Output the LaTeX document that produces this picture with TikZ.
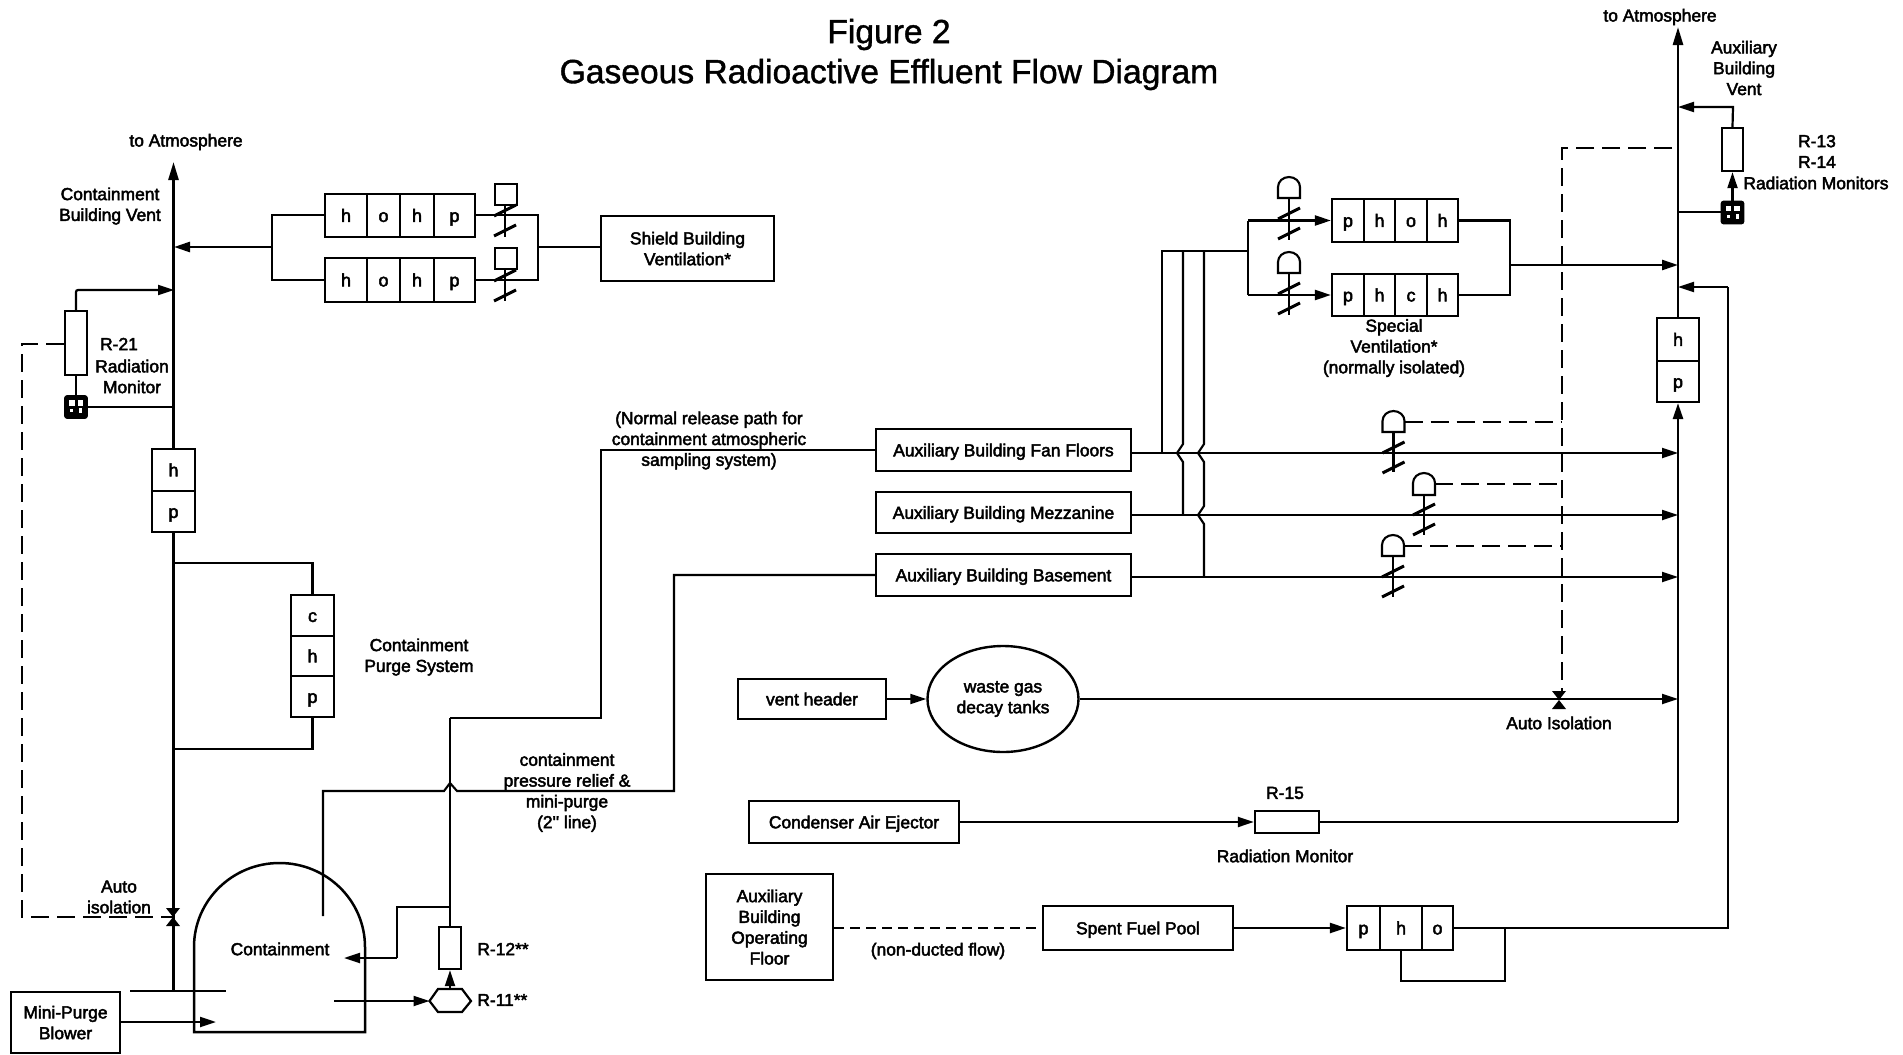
\documentclass[tikz,border=0pt]{standalone}
\usepackage{fontspec}
\setmainfont{Liberation Sans}
\newfontfamily\fk[FakeBold=2.6]{Liberation Sans}
\newfontfamily\fkt[FakeBold=1.2]{Liberation Sans}
\usetikzlibrary{arrows.meta,shapes.geometric}
\newcommand\bx[7][boxs]{\pgfmathsetmacro\wdd{(#5-#3)*0.5}\pgfmathsetmacro\htt{(#6-#4)*0.5}\node[#1,minimum width=\wdd pt,minimum height=\htt pt] (#2) at ({(#3+#5)/2},{(#4+#6)/2}) {#7};}
\newcommand\slashpair[3]{\draw[slash] (#1-11,#2+5) -- (#1+11,#2-6); \draw[slash] (#1-11,#3+5) -- (#1+11,#3-6);}
% dome valve: dome top y, x, dome bottom y, half width, line y, stem bottom, name
\newcommand\domevalve[7]{%
 \draw[thin2] (#2-#4,#3) -- (#2-#4,#1+10) arc[start angle=180,end angle=360,x radius=#4,y radius=10] -- (#2+#4,#3) -- cycle;
 \coordinate (#7) at (#2+#4,#1+11);
 \draw[thin2] (#2,#3) -- (#2,#6);
 \slashpair{#2}{#5-5}{#5+15}}
% dark sampler block
\newcommand\sampler[3]{%
 \node[fill=black,draw,line width=0.8pt,rounded corners=1pt,minimum width=11pt,minimum height=11pt,inner sep=0pt] (#1) at (#2,#3) {};
 \fill[white] (#2-7,#3-7) rectangle (#2-1.5,#3-1.5);
 \fill[white] (#2+1.5,#3-7) rectangle (#2+7,#3-1.5);
 \fill[white] (#2+3,#3+1) rectangle (#2+6,#3+6);
 \fill[white] (#2-6,#3+2) rectangle (#2-3,#3+5);}
\tikzset{
 boxs/.style={draw,line width=1.2pt,inner sep=0pt,align=center,text depth=0pt,font=\fk\fontsize{8.7}{10.4}\selectfont},
 cell/.style={boxs,line width=1.1pt,text height=6.4pt,text depth=0pt,font=\fk\fontsize{9}{10}\selectfont},
 lab/.style={inner sep=0pt,align=center,font=\fk\fontsize{8.7}{10.4}\selectfont},
 main/.style={line width=1.3pt},
 thin2/.style={line width=1.05pt},
 flow/.style={line width=1.1pt,-{Triangle[length=8pt,width=5pt]}},
 dash2/.style={line width=0.9pt,dash pattern=on 9pt off 4pt},
 slash/.style={line width=1.5pt},
}
\begin{document}
\begin{tikzpicture}[x=0.5pt,y=-0.5pt]
\useasboundingbox (0,0) rectangle (1903,1055);
% title
\node[inner sep=0pt,align=center,font=\fkt\fontsize{16.8}{20}\selectfont] (title) at (889,54.5) {Figure 2\\Gaseous Radioactive Effluent Flow Diagram};
% ---- left stack
\bx[cell]{lh}{152}{449}{195}{491}{h}
\bx[cell]{lp}{152}{491}{195}{532}{p}
\coordinate (ltop) at (174,162);
\draw[main,-{Triangle[length=9pt,width=5pt]}] (lh.north |- lh.north) -- (lh.north |- ltop);
\coordinate (lbase) at (174,991);
\draw[main] (lp.south) -- (lp.south |- lbase);
\coordinate (barL) at (130,991); \coordinate (barR) at (226,991);
\draw[line width=1.4pt] (barL) -- (barR);
\node[lab] (atm1) at (186,142) {to Atmosphere};
\node[lab] (cbv) at (110,206) {Containment\\Building Vent};
% R-21
\bx{r21}{65}{311}{87}{375}{}
\sampler{ao1}{76}{407}
\coordinate (r21up) at (76,290); \coordinate (v21a) at (174,290); \coordinate (v21b) at (174,407);
\draw[flow,rounded corners=1pt] (r21.north) -- (r21up) -- (v21a);
\draw[thin2] (r21.south) -- (ao1.north);
\draw[main] (ao1.east |- v21b) -- (v21b);
\node[lab] (t21a) at (119,344) {R-21};
\node[lab] (t21b) at (132,376.5) {Radiation\\Monitor};
% left isolation
\coordinate (iso1) at (173,917); \coordinate (dl1) at (22,344); \coordinate (dl2) at (22,917);
\draw[dash2] (r21.west |- dl1) -- (dl1) -- (dl2) -- (iso1);
\fill (166,908) -- (180,908) -- (166,926) -- (180,926) -- cycle;
\node[lab] (autoL) at (119,897) {Auto\\isolation};
% shield filters
\bx[cell]{a1}{325}{194}{367}{237}{h}\bx[cell]{a2}{367}{194}{400}{237}{o}\bx[cell]{a3}{400}{194}{434}{237}{h}\bx[cell]{a4}{434}{194}{475}{237}{p}
\bx[cell]{b1}{325}{258}{367}{302}{h}\bx[cell]{b2}{367}{258}{400}{302}{o}\bx[cell]{b3}{400}{258}{434}{302}{h}\bx[cell]{b4}{434}{258}{475}{302}{p}
\bx{shield}{601}{216}{774}{281}{Shield Building\\Ventilation*}
\coordinate (mL1) at (272,215); \coordinate (mL2) at (272,280); \coordinate (mLm) at (272,247);
\coordinate (mR1) at (538,215); \coordinate (mR2) at (538,280); \coordinate (mRm) at (538,247);
\draw[thin2] (a1.west |- mL1) -- (mL1) -- (mL2) -- (b1.west |- mL2);
\draw[thin2] (a4.east |- mR1) -- (mR1) -- (mR2) -- (b4.east |- mR2);
\draw[main] (shield.west |- mRm) -- (mRm);
\coordinate (vtip) at (174,247);
\draw[flow,line width=1.3pt] (mLm) -- (vtip);
\foreach \yy/\yb in {184/215,248/280}{
 \draw[thin2] (495,\yy) rectangle (517,\yy+21);
 \draw[thin2] (505,\yy+21) -- (505,\yy+53);
 \slashpair{505}{\yb-4}{\yb+16}
}
% purge
\bx[cell]{c1}{291}{595}{334}{636}{c}\bx[cell]{c2}{291}{636}{334}{676}{h}\bx[cell]{c3}{291}{676}{334}{717}{p}
\coordinate (pu1) at (174,563); \coordinate (pu2) at (174,749);
\draw[thin2] (pu1) -- (c1.north |- pu1) -- (c1.north);
\draw[thin2] (pu2) -- (c3.south |- pu2) -- (c3.south);
\node[lab] (cps) at (419,657) {Containment\\Purge System};
% containment
\draw[line width=1.25pt] (194,1032) -- (194,947) arc[start angle=180,end angle=360,x radius=85.5,y radius=84] -- (365,1032) -- cycle;
\node[lab] (contt) at (280,949) {Containment};
\bx{blower}{11}{992}{120}{1053}{Mini-Purge\\Blower}
\coordinate (bl2) at (216,1022);
\draw[flow] (blower.east |- bl2) -- (bl2);
\coordinate (hexW) at (429.5,1001); \coordinate (hexE) at (471,1001); \coordinate (hexN) at (450,989);
\draw[line width=1.1pt] (hexW) -- (438,989) -- (462,989) -- (hexE) -- (462,1012) -- (438,1012) -- cycle;
\bx{r12}{439}{927}{461}{969}{}
\coordinate (in11) at (334,1001);
\draw[flow] (in11) -- (hexW);
\draw[flow] (hexN) -- (r12.south);
\node[lab,anchor=west] (t12) at (477,949) {R-12**};
\node[lab,anchor=west] (t11) at (477,1000) {R-11**};
\coordinate (st1) at (450,718); \coordinate (st2) at (450,907); \coordinate (st3) at (397,907); \coordinate (st4) at (397,958); \coordinate (st5) at (344,958);
\draw[thin2] (r12.north) -- (st1);
\draw[main] (st2) -- (st3) -- (st4);
\draw[flow] (st4) -- (st5);
% aux boxes
\bx{fan}{876}{429}{1131}{471}{Auxiliary Building Fan Floors}
\bx{mez}{876}{492}{1131}{533}{Auxiliary Building Mezzanine}
\bx{bas}{876}{554}{1131}{596}{Auxiliary Building Basement}
\coordinate (n1) at (601,450); \coordinate (n2) at (601,718);
\draw[thin2] (st1) -- (n2) -- (n1) -- (fan.west |- n1);
\coordinate (p1) at (323,916); \coordinate (p2) at (323,791); \coordinate (p3) at (444,791); \coordinate (p4) at (450,783); \coordinate (p5) at (457,791); \coordinate (p6) at (674,791); \coordinate (p7) at (674,575);
\draw[thin2] (p1) -- (p2) -- (p3) -- (p4) -- (p5) -- (p6) -- (p7) -- (bas.west |- p7);
\node[lab] (norm) at (709,440.5) {(Normal release path for\\containment atmospheric\\sampling system)};
\node[lab] (cprel) at (567,792.5) {containment\\pressure relief \&\\mini-purge\\(2'' line)};
% right main
\bx[cell]{rh}{1657}{318}{1699}{361}{h}
\bx[cell]{rp}{1657}{361}{1699}{402}{p}
\coordinate (rtop) at (1678,27); \coordinate (rbot) at (1678,822);
\draw[main,-{Triangle[length=9pt,width=5pt]}] (rh.north) -- (rh.north |- rtop);
\draw[main,-{Triangle[length=8pt,width=5pt]}] (rbot) -- (rp.south);
\node[lab] (atm2) at (1660,17) {to Atmosphere};
\node[lab] (abv) at (1744,68) {Auxiliary\\Building\\Vent};
\bx{r13}{1722}{128}{1743}{171}{}
\sampler{ao2}{1732.5}{212.5}
\coordinate (r13a) at (1733,107); \coordinate (r13b) at (1678,107); \coordinate (r13c) at (1678,212);
\draw[flow] (r13.north) -- (r13a) -- (r13b);
\draw[flow] (ao2.north) -- (r13.south);
\draw[thin2] (ao2.west |- r13c) -- (r13c);
\node[lab] (t13) at (1817,151.5) {R-13\\R-14};
\node[lab] (t13b) at (1816,183) {Radiation Monitors};
% special ventilation
\bx[cell]{s1}{1332}{199}{1364}{242}{p}\bx[cell]{s2}{1364}{199}{1395}{242}{h}\bx[cell]{s3}{1395}{199}{1427}{242}{o}\bx[cell]{s4}{1427}{199}{1458}{242}{h}
\bx[cell]{u1}{1332}{274}{1364}{316}{p}\bx[cell]{u2}{1364}{274}{1395}{316}{h}\bx[cell]{u3}{1395}{274}{1427}{316}{c}\bx[cell]{u4}{1427}{274}{1458}{316}{h}
\coordinate (sL1) at (1248,220.5); \coordinate (sL2) at (1248,295); \coordinate (sLm) at (1248,251);
\coordinate (sR1) at (1510,220.5); \coordinate (sR2) at (1510,295); \coordinate (sRm) at (1510,265); \coordinate (sT) at (1678,265);
\draw[main] (sL2) -- (sL1);
\draw[flow] (sL1) -- (s1.west |- sL1);
\draw[flow] (sL2) -- (u1.west |- sL2);
\draw[thin2] (s4.east |- sR1) -- (sR1) -- (sR2) -- (u4.east |- sR2);
\draw[flow,line width=1.25pt] (sRm) -- (sT);
\domevalve{177}{1289}{198}{11}{219}{240}{ds1}
\domevalve{252}{1289}{273}{11}{294}{315}{ds2}
\node[lab] (spec) at (1394,348) {Special\\Ventilation*\\(normally isolated)};
% verticals to the special ventilation
\coordinate (ve1) at (1162,251); \coordinate (ve2) at (1183,251); \coordinate (ve3) at (1204,251);
\draw[thin2] (sLm) -- (ve1) -- (1162,453);
\draw[thin2] (ve2) -- (1183,444) -- (1177,453) -- (1183,462) -- (1183,515);
\draw[thin2] (ve3) -- (1204,444) -- (1198,453) -- (1204,462) -- (1204,506) -- (1198,515) -- (1204,524) -- (1204,577);
% branch flows
\coordinate (tf) at (1678,453); \coordinate (tm) at (1678,515); \coordinate (tb) at (1678,577); \coordinate (tw) at (1678,699);
\coordinate (fa) at (1131,453); \coordinate (ma) at (1131,515); \coordinate (ba) at (1131,577);
\draw[flow] (fa) -- (tf);
\draw[flow] (ma) -- (tm);
\draw[flow] (ba) -- (tb);
\domevalve{411}{1393.5}{432}{11}{453}{472}{d1}
\domevalve{473}{1424}{495}{11}{515}{535}{d2}
\domevalve{535}{1393}{556}{11}{577}{597}{d3}
\coordinate (dv) at (1562,148); \coordinate (dvb) at (1562,692); \coordinate (dvt) at (1672,148);
\draw[dash2] (dvt) -- (dv) -- (dvb);
\draw[dash2] (d1) -- (1562,422);
\draw[dash2] (d2) -- (1562,484);
\draw[dash2] (d3) -- (1562,546);
% waste gas
\bx{vent}{738}{679}{886}{719}{vent header}
\node[draw,line width=1.2pt,ellipse,minimum width=75.5pt,minimum height=53pt,inner sep=0pt,align=center,font=\fk\fontsize{8.7}{10.4}\selectfont] (tank) at (1003,699) {waste gas\\decay tanks};
\draw[flow,line width=0.9pt] (vent.east) -- (tank.west);
\draw[flow] (tank.east) -- (tw);
\fill (1552,691) -- (1566,691) -- (1552,709) -- (1566,709) -- cycle;
\node[lab] (autoR) at (1559,723) {Auto Isolation};
% condenser
\bx{cond}{749}{801}{959}{843}{Condenser Air Ejector}
\bx{r15}{1255}{811}{1319}{833}{}
\draw[flow] (cond.east) -- (r15.west);
\draw[main] (r15.east) -- (rbot);
\node[lab] (t15) at (1285,793) {R-15};
\node[lab] (t15b) at (1285,856) {Radiation Monitor};
% spent fuel
\bx{abof}{706}{874}{833}{980}{Auxiliary\\Building\\Operating\\Floor}
\bx{sfp}{1043}{906}{1233}{950}{Spent Fuel Pool}
\bx[cell]{q1}{1347}{906}{1380}{950}{p}\bx[cell]{q2}{1380}{906}{1422}{950}{h}\bx[cell]{q3}{1422}{906}{1453}{950}{o}
\draw[dash2,dash pattern=on 5pt off 3pt] (abof.east |- sfp.west) -- (sfp.west);
\draw[flow,line width=1.2pt] (sfp.east) -- (q1.west);
\coordinate (qq) at (1505,928); \coordinate (qq2) at (1505,981); \coordinate (qq3) at (1401,981);
\draw[thin2] (qq) -- (qq2) -- (qq3) -- (q2.south);
\coordinate (rr1) at (1728,928); \coordinate (rr2) at (1728,287); \coordinate (rr3) at (1678,287);
\draw[main] (q3.east) -- (rr1) -- (rr2);
\draw[flow] (rr2) -- (rr3);
\node[lab] (nd) at (938,951) {(non-ducted flow)};
\end{tikzpicture}
\end{document}
